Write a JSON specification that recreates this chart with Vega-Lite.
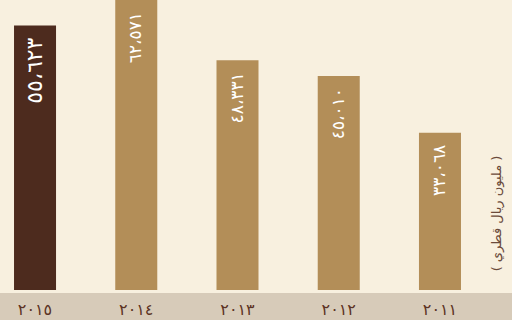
{
  "$schema": "https://vega.github.io/schema/vega-lite/v6.json",
  "width": 512,
  "height": 293,
  "autosize": "none",
  "padding": {"left": 0, "top": 0, "right": 0, "bottom": 27},
  "background": "#d7cbb9",
  "config": {"view": {"fill": "#f8f0df", "stroke": null}, "font": "DejaVu Sans"},
  "data": {"values": [
    {"year": "٢٠١٥", "value": 55623, "label": "٥٥،٦٢٣", "latest": "yes"},
    {"year": "٢٠١٤", "value": 62571, "label": "٦٢،٥٧١", "latest": "no"},
    {"year": "٢٠١٣", "value": 48331, "label": "٤٨،٣٣١", "latest": "no"},
    {"year": "٢٠١٢", "value": 45010, "label": "٤٥،٠١٠", "latest": "no"},
    {"year": "٢٠١١", "value": 33068, "label": "٣٣،٠٦٨", "latest": "no"}
  ]},
  "encoding": {
    "x": {"field": "year", "type": "nominal", "sort": null,
      "scale": {"range": [-15.6, 490.6], "paddingInner": 0.585, "paddingOuter": 0.2926},
      "axis": {"title": null, "domain": false, "ticks": false, "labelAngle": 0, "labelFontSize": 16, "labelColor": "#5c3324", "labelPadding": 8, "labelBaseline": "top"}},
    "y": {"field": "value", "type": "quantitative",
      "scale": {"domain": [0, 61000], "range": [290, 0], "clamp": true, "nice": false},
      "axis": {"orient": "right", "offset": -9, "grid": false, "domain": false, "ticks": false, "labels": false,
        "title": "( مليون ريال قطري )", "titleAngle": 270, "titleFontSize": 13, "titleFontWeight": "normal", "titleColor": "#6b4a3a", "titlePadding": 0, "titleY": 213}}
  },
  "layer": [
    {"mark": {"type": "bar", "clip": true},
     "encoding": {"color": {"field": "latest", "type": "nominal", "scale": {"domain": ["yes", "no"], "range": ["#4d2b1e", "#b38e58"]}, "legend": null}}},
    {"mark": {"type": "text", "angle": 270, "align": "right", "baseline": "middle", "yOffset": 12, "color": "white"},
     "encoding": {"text": {"field": "label"},
       "size": {"field": "latest", "type": "nominal", "scale": {"domain": ["yes", "no"], "range": [22, 17]}, "legend": null},
       "fontWeight": {"field": "latest", "type": "nominal", "scale": {"domain": ["yes", "no"], "range": ["bold", "normal"]}, "legend": null}}}
  ]
}
